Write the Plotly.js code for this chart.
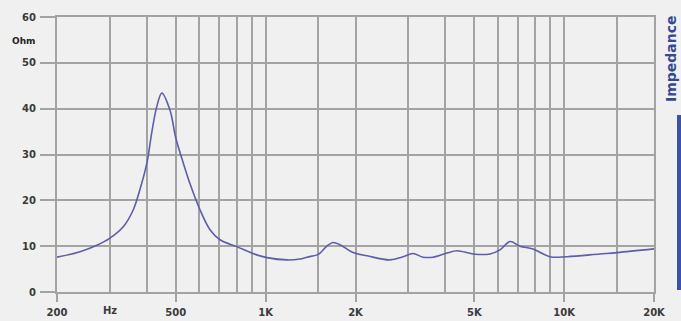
<!DOCTYPE html>
<html>
<head>
<meta charset="utf-8">
<script src="https://cdn.plot.ly/plotly-3.0.1.min.js"></script>
<style>html,body{margin:0;padding:0;background:#f0f0f0;}#chart{width:681px;height:321px;}</style>
</head>
<body>
<div id="chart"></div>
<script>
// Frequency (Hz) and impedance (Ohm)
const freq = [200, 239, 272, 300, 334, 360, 379, 400, 415, 432, 449, 478, 500, 530, 558, 603, 651, 703, 800, 933, 1010, 1179, 1304, 1376, 1486, 1521, 1603, 1681, 1775, 1962, 2186, 2610, 2886, 3116, 3366, 3636, 4050, 4376, 4952, 5644, 6096, 6586, 7112, 7864, 8966, 10220, 13180, 15030, 20000];
const impedance = [7.6, 8.8, 10.2, 11.7, 14.3, 17.9, 22.3, 28.1, 34.6, 40.5, 43.4, 39.7, 33.6, 28.1, 23.6, 17.9, 13.6, 11.4, 9.9, 8.1, 7.5, 7.0, 7.2, 7.6, 8.1, 8.5, 10.0, 10.8, 10.3, 8.6, 7.9, 7.0, 7.7, 8.4, 7.6, 7.6, 8.5, 9.0, 8.3, 8.3, 9.2, 11.0, 10.0, 9.4, 7.7, 7.7, 8.3, 8.6, 9.4];

const xLabelVals = [200, 500, 1000, 2000, 5000, 10000, 20000];
const xLabelText = ['200', '500', '1K', '2K', '5K', '10K', '20K'];
const xGridVals = [300, 400, 600, 700, 800, 900, 1500, 3000, 4000, 6000, 7000, 8000, 9000, 15000];
const yTickVals = [0, 10, 20, 30, 40, 50, 60];
const unitX = 'Hz';
const unitY = 'Ohm';
const sideTitle = 'Impedance';

const gridCol = '#a3a3a3';
const gw = 2;
const tickFont = {family: 'DejaVu Sans', size: 10, color: '#3a3a3a', weight: 'bold'};

const trace = {
  x: freq, y: impedance, type: 'scatter', mode: 'lines',
  line: {color: '#5a5eae', width: 1.6, shape: 'spline', smoothing: 1},
  hoverinfo: 'skip'
};

const layout = {
  width: 681, height: 321,
  margin: {l: 57, r: 27, t: 17, b: 29},
  paper_bgcolor: '#f0f0f0', plot_bgcolor: '#f0f0f0',
  showlegend: false,
  xaxis: {
    type: 'log', range: [Math.log10(200), Math.log10(20000)],
    tickmode: 'array', tickvals: xLabelVals, ticktext: xLabelText,
    ticks: 'outside', ticklen: 8, tickcolor: gridCol, tickwidth: gw,
    showgrid: true, gridcolor: gridCol, gridwidth: gw,
    minor: {tickmode: 'array', tickvals: xGridVals, showgrid: true, gridcolor: gridCol, gridwidth: gw, ticks: ''},
    showline: true, linecolor: gridCol, linewidth: gw, mirror: true,
    zeroline: false, tickfont: tickFont, ticklabelstandoff: 2
  },
  yaxis: {
    range: [0, 60], tickmode: 'array', tickvals: yTickVals,
    ticks: 'outside', ticklen: 15, tickcolor: gridCol, tickwidth: gw,
    showgrid: true, gridcolor: gridCol, gridwidth: gw,
    showline: true, linecolor: gridCol, linewidth: gw, mirror: true,
    zeroline: false, tickfont: tickFont, ticklabelstandoff: 2
  },
  annotations: [
    {text: unitY, xref: 'paper', yref: 'y', x: (23 - 57) / 597, y: 54.8, showarrow: false,
     font: {family: 'DejaVu Sans', size: 9, color: '#222', weight: 'bold'}, xanchor: 'center', yanchor: 'middle'},
    {text: unitX, xref: 'x', yref: 'paper', x: Math.log10(300), y: (292 - 310) / 275, showarrow: false,
     font: tickFont, xanchor: 'center', yanchor: 'middle'},
    {text: sideTitle, xref: 'paper', yref: 'paper', x: (671 - 57) / 597, y: (292 - 59) / 275, showarrow: false,
     textangle: -90, font: {family: 'DejaVu Sans', size: 14, color: '#34489a', weight: 'bold'}, xanchor: 'center', yanchor: 'middle'}
  ],
  shapes: [
    {type: 'rect', xref: 'paper', yref: 'paper', x0: (677 - 57) / 597, x1: (681 - 57) / 597,
     y0: (292 - 290) / 275, y1: (292 - 115) / 275, fillcolor: '#3a52a8', line: {width: 0}}
  ]
};

Plotly.newPlot('chart', [trace], layout, {displayModeBar: false, staticPlot: true});
</script>
</body>
</html>
